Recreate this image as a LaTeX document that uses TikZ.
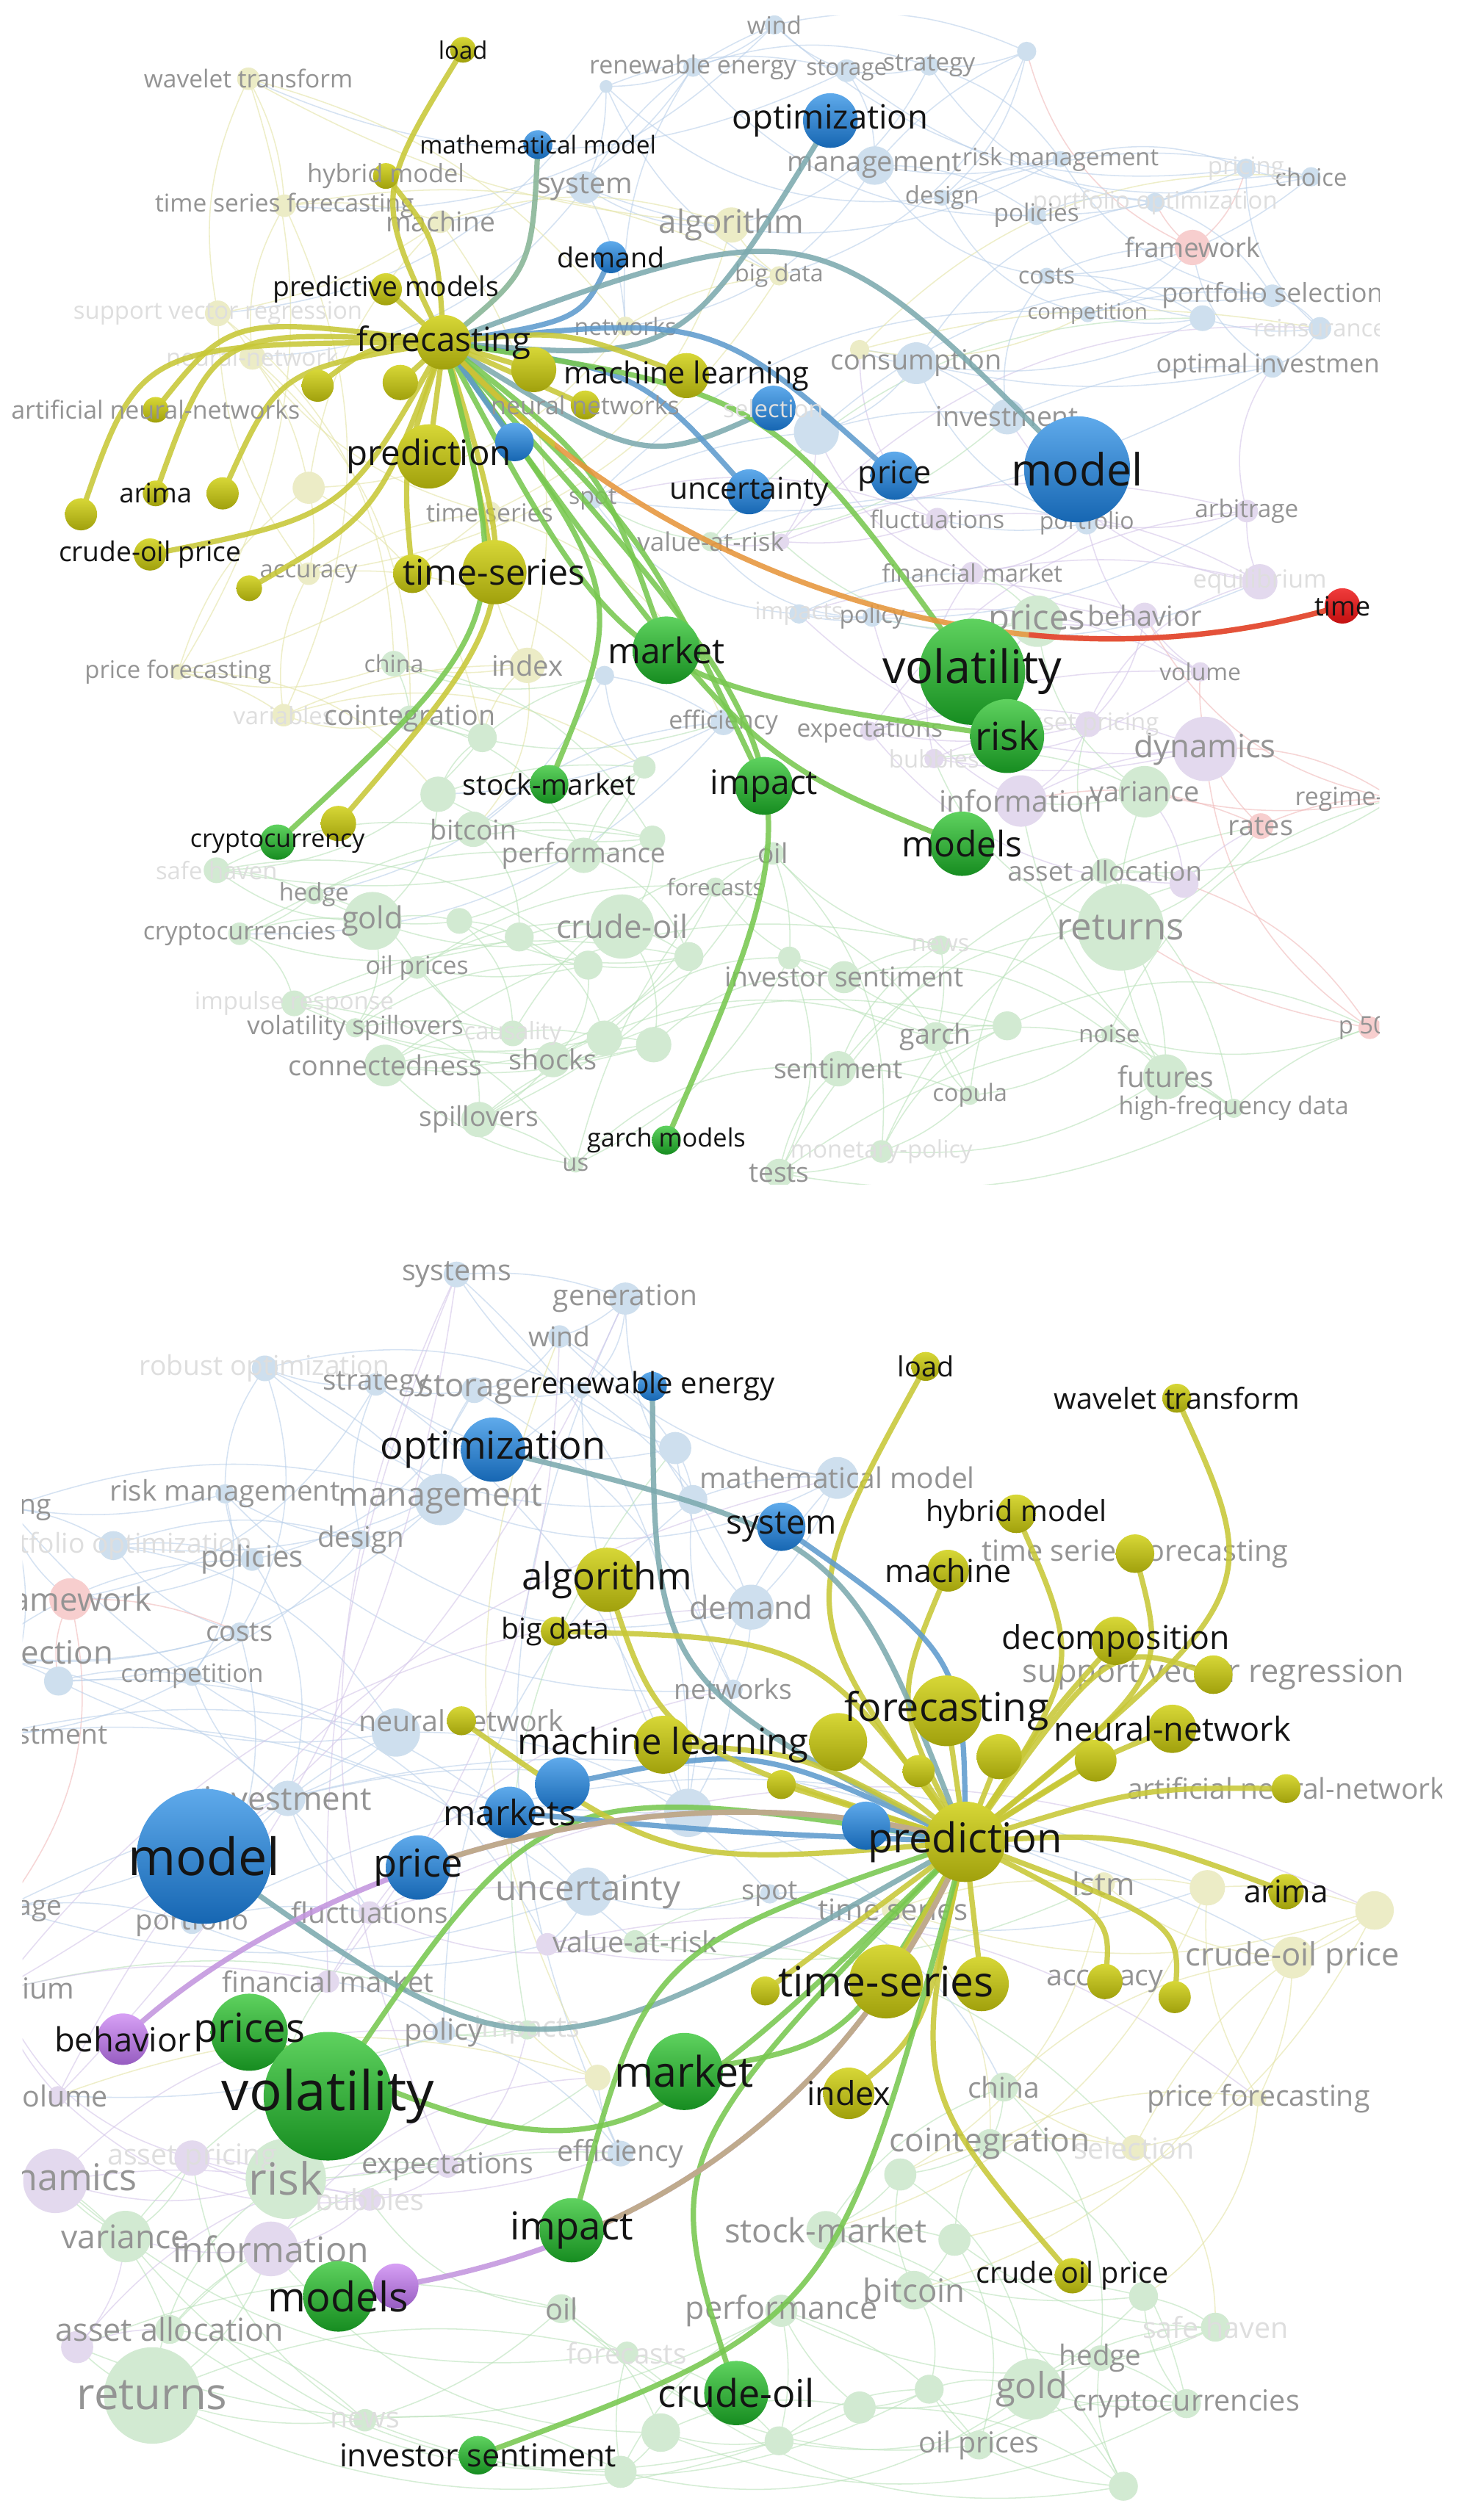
\documentclass[tikz,border=0pt]{standalone}
\usepackage{fontspec}
\setmainfont{Open Sans}
\pgfdeclarelayer{paper}
\pgfdeclarelayer{bgedge}
\pgfdeclarelayer{bgnode}
\pgfdeclarelayer{bglabel}
\pgfdeclarelayer{hiedge}
\pgfdeclarelayer{toplabel}
\pgfsetlayers{paper,bgedge,bgnode,bglabel,hiedge,main,toplabel}
\newcommand\fsz[1]{\fontsize{#1}{#1}\selectfont}
% node shading colours
\definecolor{YT}{RGB}{215,215,55}\definecolor{YB}{RGB}{160,160,12}
\definecolor{BT}{RGB}{95,170,235}\definecolor{BB}{RGB}{22,102,178}
\definecolor{GT}{RGB}{95,210,95}\definecolor{GB}{RGB}{22,140,32}
\definecolor{RT}{RGB}{240,60,60}\definecolor{RB}{RGB}{195,15,15}
\definecolor{PT}{RGB}{215,160,245}\definecolor{PB}{RGB}{150,92,192}
% faded fills
\definecolor{fyel}{RGB}{236,236,198}\definecolor{fblu}{RGB}{206,223,238}
\definecolor{fgrn}{RGB}{210,234,210}\definecolor{fpur}{RGB}{227,217,238}
\definecolor{fred}{RGB}{247,206,206}
% texture edges
\definecolor{tfyel}{RGB}{228,228,165}\definecolor{tfblu}{RGB}{185,208,234}
\definecolor{tfgrn}{RGB}{185,226,185}\definecolor{tfpur}{RGB}{212,198,233}
\definecolor{tfred}{RGB}{240,185,185}
% labels
\definecolor{fl}{RGB}{148,148,148}\definecolor{vfl}{RGB}{222,222,222}
\definecolor{bl}{RGB}{20,20,20}
% highlighted edges
\definecolor{eY}{RGB}{200,200,55}\definecolor{eG}{RGB}{120,200,80}
\definecolor{eB}{RGB}{95,155,205}\definecolor{eT}{RGB}{125,170,175}
\definecolor{eTG}{RGB}{135,180,150}\definecolor{eO}{RGB}{230,150,60}
\definecolor{eR}{RGB}{228,70,55}\definecolor{eP}{RGB}{195,150,222}
\definecolor{eN}{RGB}{190,172,130}

\def\toplist{154.5/49/14/fyel/wavelet transform/15.3/fl,
177/128/14/fyel/time series forecasting/15.3/fl,
274/138/14/fyel/machine/17/fl,
135.5/195/16/fyel/support vector regression/15/vfl,
157/222/16/fyel/neural-network/15/vfl,
192/303.5/20/fyel//10/fl,
192/357/14/fyel/accuracy/15/fl,
304.6/319/14/fyel/time series/15.5/fl,
110.8/418/10/fyel/price forecasting/15/fl,
176.4/445/14/fyel/variables/15/vfl,
328/414/22/fyel/index/17.5/fl,
245/413/16/fgrn/china/14.7/fl,
255/447/16/fgrn/cointegration/17.2/fl,
300/459/18/fgrn//10/fl,
376/420.3/12/fblu//10/fl,
450/449.4/16/fblu/efficiency/15.5/fl,
272.5/494.2/22/fgrn//10/fl,
400.8/477.4/14/fgrn//10/fl,
294.4/516/22/fgrn/bitcoin/17/fl,
405.8/521.7/16/fgrn//10/fl,
363/532.2/22/fgrn/performance/16.8/fl,
134.7/541.5/16/fgrn/safe haven/15/vfl,
195.3/556.7/12/fgrn/hedge/15/fl,
149/581/14/fgrn/cryptocurrencies/15.4/fl,
231.7/573/36/fgrn/gold/19/fl,
285.7/573/16/fgrn//10/fl,
323/583/18/fgrn//10/fl,
387/576.5/40/fgrn/crude-oil/20/fl,
428.5/595.2/18/fgrn//10/fl,
365.8/600.5/18/fgrn//10/fl,
259.4/602/14/fgrn/oil prices/15.4/fl,
183/624.3/16/fgrn/impulse response/15/vfl,
221/639.5/12/fgrn/volatility spillovers/15.8/fl,
319/643/16/fgrn/causality/15/vfl,
376/646/22/fgrn//10/fl,
406.6/650/22/fgrn//10/fl,
239.6/663/26/fgrn/connectedness/17.2/fl,
344/659.3/22/fgrn/shocks/17.3/fl,
298/696.6/22/fgrn/spillovers/17/fl,
358/724.6/10/fgrn/us/15/fl,
445/552/12/fgrn/forecasts/14.2/fl,
480.8/531/14/fgrn/oil/17/fl,
491/596/14/fgrn//10/fl,
525/608/20/fgrn/investor sentiment/17/fl,
585/588/12/fgrn/news/15/vfl,
582/645/18/fgrn/garch/17.2/fl,
626.5/638.3/18/fgrn//10/fl,
521.4/665/22/fgrn/sentiment/17/fl,
603.3/681.5/12/fgrn/copula/14.9/fl,
548.3/716.4/14/fgrn/monetary-policy/15/vfl,
484.6/730/18/fgrn/tests/17/fl,
690/643/10/fgrn/noise/15.2/fl,
725/670/28/fgrn/futures/17.8/fl,
767.4/689.6/12/fgrn/high-frequency data/15.3/fl,
852/639.5/14/fred/p 500/15/fl,
697/577/54/fgrn/returns/23.3/fl,
687.2/542/16/fgrn/asset allocation/16.8/fl,
736.5/549.7/18/fpur//10/fl,
784.2/514/16/fred/rates/17.3/fl,
867/497/14/fred/regime-switching/15.5/fl,
712/492.6/32/fgrn/variance/17.3/fl,
635/498.4/32/fpur/information/18.3/fl,
749.5/466/40/fpur/dynamics/20/fl,
581/472/12/fpur/bubbles/15/vfl,
677/450.6/16/fpur/asset pricing/15/vfl,
541/455/12/fpur/expectations/15.3/fl,
746.6/418/12/fpur/volume/14.6/fl,
712/383/16/fpur/behavior/17.3/fl,
645/386.5/32/fgrn/prices/21.6/fl,
542.5/384/12/fblu/policy/15/fl,
497/382/12/fblu/impacts/15/vfl,
604.7/356.6/14/fpur/financial market/15/fl,
783.6/362/22/fpur/equilibrium/15.5/vfl,
775.5/318/14/fpur/arbitrage/15.2/fl,
676/325.5/14/fblu/portfolio/14.6/fl,
583/323/14/fpur/fluctuations/15.2/fl,
486/337/10/fpur//10/fl,
442/337/12/fgrn/value-at-risk/16/fl,
368.7/310.7/12/fblu/spot/14.6/fl,
507.8/268.9/28/fblu//10/fl,
626.5/259.3/22/fblu/investment/17/fl,
791.5/228/14/fblu/optimal investment/16/fl,
570/226/26/fblu/consumption/17.3/fl,
534.7/217.5/12/fyel//10/fl,
821/204.3/14/fblu/reinsurance/15/vfl,
748/198/16/fblu//10/fl,
676.5/195.5/10/fblu/competition/13.3/fl,
791.5/184/14/fblu/portfolio selection/16.3/fl,
651/171.6/10/fblu/costs/14.8/fl,
741.7/154/22/fred/framework/16.6/fl,
718.5/126/12/fblu/portfolio optimization/15/vfl,
815.5/110/12/fblu/choice/15/fl,
775/104.7/12/fblu/pricing/15/vfl,
644.7/134/12/fblu/policies/15.2/fl,
586/123/10/fblu/design/15/fl,
659.7/99/10/fblu/risk management/15/fl,
544/103/24/fblu/management/17.4/fl,
638.6/32/12/fblu//10/fl,
578/41/12/fblu/strategy/15.3/fl,
526.6/44/14/fblu/storage/14.4/fl,
481.7/15.5/12/fblu/wind/15/fl,
431/41.8/12/fblu/renewable energy/15.5/fl,
377/53.8/8/fblu//10/fl,
363.8/116.6/20/fblu/system/18/fl,
389/203/12/fyel/networks/14.7/fl,
484.6/171.6/12/fyel/big data/14.7/fl,
455/140/22/fyel/algorithm/20/fl}

\def\botlist{284/793/16/fblu/systems/18/fl,
389/808/20/fblu/generation/17.8/fl,
348/831.6/14/fblu/wind/17/fl,
420/901/20/fblu//10/fl,
431/933/18/fblu//10/fl,
520.8/919.6/26/fblu/mathematical model/17.8/fl,
467.2/1000/28/fblu/demand/19.8/fl,
456/1051/12/fblu/networks/17/fl,
428/1128/30/fblu//10/fl,
361.5/865/10/fblu//10/fl,
295/865/16/fblu/storage/20/fl,
233.8/861.4/14/fblu/strategy/17.6/fl,
164.7/851.4/16/fblu/robust optimization/17/vfl,
274/933/32/fblu/management/20.4/fl,
224.5/958/12/fblu/design/17.6/fl,
140/929.5/12/fblu/risk management/17.6/fl,
5/938/12/fblu/pricing/17/fl,
70.5/961.7/18/fblu/portfolio optimization/17/vfl,
156.8/970.4/14/fblu/policies/18.3/fl,
43.7/995/26/fred/framework/20/fl,
149/1015.5/12/fblu/costs/17.4/fl,
-14/1030/16/fblu/portfolio selection/20/fl,
36.4/1046/18/fblu//10/fl,
119.5/1043/12/fblu/competition/15.8/fl,
-10/1080.6/16/fblu/optimal investment/17/fl,
246.3/1078/30/fblu//10/fl,
179/1119/22/fblu/investment/20/fl,
2.7/1187/12/fblu/arbitrage/17/fl,
119.5/1196.4/14/fblu/portfolio/17.4/fl,
230/1190/14/fpur/fluctuations/17.7/fl,
365.8/1177/30/fblu/uncertainty/21.7/fl,
340.5/1209.8/14/fpur//10/fl,
395/1208/14/fgrn/value-at-risk/18/fl,
478.8/1178.4/12/fblu/spot/17.2/fl,
555.5/1188/14/fyel/time series/18.3/fl,
686.5/1172/14/fyel/lstm/19.4/fl,
751/1174.6/22/fyel//10/fl,
855/1188.7/24/fyel//10/fl,
804/1218/26/fyel/crude-oil price/19.9/fl,
782.8/1305.6/10/fyel/price forecasting/17.9/fl,
705.5/1336.4/16/fyel/selection/18/vfl,
624.4/1298.6/18/fgrn/china/17.8/fl,
615.7/1333.8/18/fgrn/cointegration/20.2/fl,
560/1353/20/fgrn//10/fl,
513.6/1387.7/24/fgrn/stock-market/20.7/fl,
593.7/1393.6/20/fgrn//10/fl,
568.6/1425/24/fgrn/bitcoin/20/fl,
711.3/1428.8/18/fgrn//10/fl,
756/1448/18/fgrn/safe haven/18/vfl,
684.4/1467.3/16/fgrn/hedge/17.6/fl,
738/1495.6/18/fgrn/cryptocurrencies/18.1/fl,
641.8/1486.6/38/fgrn/gold/22.3/fl,
698.8/1547/18/fgrn//10/fl,
609/1521.3/18/fgrn/oil prices/18/fl,
578/1486.6/18/fgrn//10/fl,
534.7/1498/20/fgrn//10/fl,
486/1437.8/20/fgrn/performance/19.7/fl,
484.6/1518.7/18/fgrn//10/fl,
411/1513.6/24/fgrn//10/fl,
386/1538/20/fgrn//10/fl,
390/1464/14/fgrn/forecasts/17.6/vfl,
349.2/1436.5/18/fgrn/oil/18.2/fl,
227/1505.9/14/fgrn/news/18/vfl,
94.7/1490.5/60/fgrn/returns/27.4/fl,
48/1460.4/20/fpur//10/fl,
105.5/1449.4/18/fgrn/asset allocation/19.7/fl,
168.5/1399.3/34/fpur/information/22/fl,
78/1391.6/32/fgrn/variance/20.3/fl,
34.4/1357/40/fpur/dynamics/23/fl,
230/1368.5/14/fpur/bubbles/18/vfl,
119.5/1342.8/22/fpur/asset pricing/18/vfl,
177.8/1355.6/50/fgrn/risk/27.6/fl,
278.4/1348/14/fpur/expectations/18/fl,
386/1340/16/fblu/efficiency/17.9/fl,
371.7/1292.7/16/fyel//10/fl,
328/1263/12/fgrn/impacts/18/vfl,
276/1264.5/14/fblu/policy/18.1/fl,
36/1304/12/fpur/volume/18/fl,
-2/1239/20/fpur/equilibrium/18/fl,
204/1233/14/fpur/financial market/17.6/fl}

\begin{document}
\begin{tikzpicture}[x=1pt,y=-1pt,
  fnode/.style={circle,inner sep=0pt,draw=none},
  hnode/.style={circle,inner sep=0pt,draw=none},
  lab/.style={inner sep=0pt},
  texedge/.style={line width=0.7pt,draw opacity=0.6},
  hedge/.style={line width=3.3pt,line cap=round,draw opacity=0.88}]
\useasboundingbox (0,0) rectangle (911,1568);
\begin{pgfonlayer}{paper}
\fill[white] (0,0) rectangle (911,1568);
\end{pgfonlayer}

% ---------------- faded nodes, top panel
\begin{pgfonlayer}{bgnode}
\begin{scope}
\clip (13,10) rectangle (858,737);
\foreach \x/\y/\dd/\cl/\lbl/\sz/\lc [count=\k] in \toplist {
  \node[fnode, fill=\cl, minimum size=\dd pt] (tf\k) at (\x,\y) {};
  \expandafter\xdef\csname tfc\k\endcsname{t\cl}
  \xdef\tfN{\k}
}
\end{scope}
\begin{scope}
\clip (14,781) rectangle (897,1558);
\foreach \x/\y/\dd/\cl/\lbl/\sz/\lc [count=\k] in \botlist {
  \node[fnode, fill=\cl, minimum size=\dd pt] (bf\k) at (\x,\y) {};
  \expandafter\xdef\csname bfc\k\endcsname{t\cl}
  \xdef\bfN{\k}
}
\end{scope}
\end{pgfonlayer}

% faded labels
\begin{pgfonlayer}{bglabel}
\begin{scope}
\clip (13,10) rectangle (858,737);
\foreach \x/\y/\dd/\cl/\lbl/\sz/\lc [count=\k] in \toplist {
  \node[lab, text=\lc, font=\fsz{\sz}] at (tf\k) {\lbl};
}
\end{scope}
\begin{scope}
\clip (14,781) rectangle (897,1558);
\foreach \x/\y/\dd/\cl/\lbl/\sz/\lc [count=\k] in \botlist {
  \node[lab, text=\lc, font=\fsz{\sz}] at (bf\k) {\lbl};
}
\end{scope}
\end{pgfonlayer}

% texture edges
\begin{pgfonlayer}{bgedge}
\begin{scope}
\clip (13,10) rectangle (858,737);
\foreach \i in {1,...,\tfN} {
  \foreach \o/\bb in {1/12,3/-18,8/25} {
    \pgfmathtruncatemacro\j{mod(\i-1+\o,\tfN)+1}
    \edef\ec{\csname tfc\i\endcsname}
    \draw[texedge, draw=\ec] (tf\i.center) to[bend left=\bb] (tf\j.center);
  }
}
\end{scope}
\begin{scope}
\clip (14,781) rectangle (897,1558);
\foreach \i in {1,...,\bfN} {
  \foreach \o/\bb in {1/12,3/-18,8/25} {
    \pgfmathtruncatemacro\j{mod(\i-1+\o,\bfN)+1}
    \edef\ec{\csname bfc\i\endcsname}
    \draw[texedge, draw=\ec] (bf\i.center) to[bend left=\bb] (bf\j.center);
  }
}
\end{scope}
\end{pgfonlayer}

% ---------------- highlighted nodes
\foreach \nm/\x/\y/\dd/\cl in {t_load/288/31/16/Y, t_hyb/240/109.5/16/Y, t_math/334.6/90/18/B,
  t_dem/380/160/20/B, t_pm/240/180/20/Y, t_ml1/332/230/28/Y, t_ml2/427/233.7/28/Y,
  t_nn/364/252/18/Y, t_u1/197.6/240/20/Y, t_u2/249/238/22/Y, t_ann/96.8/255/16/Y,
  t_bl/320/275/24/B, t_ar/96.8/307/16/Y, t_y1/138.5/307/20/Y, t_y2/50.4/320/20/Y,
  t_cop/93.3/345/20/Y, t_acc/155/366/16/Y, t_ts1/256.5/357/24/Y, t_ts2/307.5/356/40/Y,
  t_pred/266.7/284/40/Y, t_fc/276/213/34/Y, t_opt/516.5/75/34/B, t_sel/481/254/28/B,
  t_unc/466/306/28/B, t_price/556.4/296/30/B, t_model/670/292/66/B, t_time/835/377/22/R,
  t_vol/604.7/418/66/G, t_risk/626.5/458/46/G, t_mkt/414.5/404.6/42/G, t_imp/475.3/489/36/G,
  t_models/598.4/525/40/G, t_sm/341.6/488/24/G, t_cry/172.6/524/22/G, t_cryy/210.5/512.4/22/Y,
  t_garch/414.5/709.4/18/G,
  b_ren/405.8/862.6/18/B, b_opt/306.7/902/40/B, b_alg/377.5/983/40/Y, b_bd/345.4/1015/18/Y,
  b_nn/287/1070.7/18/Y, b_ml1/412.5/1085.6/36/Y, b_bl/349.8/1110.4/34/B, b_mkts/317/1127.7/32/B,
  b_price/260/1162/40/B, b_model/127/1155/84/B, b_beh/76.4/1268.8/32/P, b_prices/155/1264.5/48/G,
  b_vol/204/1304.3/80/G, b_mkt/425.6/1288.9/48/G, b_imp/355.6/1387.7/40/G, b_models/210.5/1428.8/44/G,
  b_modp/246.3/1422.4/28/P, b_crude/458/1489/40/G, b_inv/297.3/1527.7/24/G, b_load/575.8/850.2/18/Y,
  b_wav/732/870/18/Y, b_sys/486/950/30/B, b_hyb/632.2/941.9/24/Y, b_tsf/706/966.7/24/Y,
  b_mach/589.7/977.3/26/Y, b_dec/694/1021/30/Y, b_svr/754.7/1042/24/Y, b_neu/729.2/1075.7/30/Y,
  b_ml2/521.4/1083.9/36/Y, b_y1/571.4/1102/20/Y, b_y2/621.5/1093/28/Y, b_y3/681.5/1095.5/26/Y,
  b_y4/486/1110.4/18/Y, b_ann/800/1112.9/18/Y, b_arima/800/1177/22/Y, b_acc1/687.3/1232.9/22/Y,
  b_acc2/730.7/1242.6/20/Y, b_ts3/476/1238.8/18/Y, b_ts1/551.2/1232.9/46/Y, b_ts2/610.5/1234.4/34/Y,
  b_index/528/1302.5/32/Y, b_cop/667/1416/22/Y, b_bl2/538.7/1136/30/B, b_fc/588.8/1064.5/44/Y,
  b_pred/600.4/1146/50/Y}
  \node[hnode, minimum size=\dd pt, top color=\cl T, bottom color=\cl B] (\nm) at (\x,\y) {};

% ---------------- highlighted edges
\begin{pgfonlayer}{hiedge}
\begin{scope}
\clip (13,10) rectangle (858,737);
\foreach \nm/\cx/\cy/\cl in {t_load/232/122/eY, t_hyb/272/149/eY, t_math/331/168.5/eTG,
  t_dem/362/199.5/eB, t_opt/424/226/eT, t_model/507/127.5/eT, t_price/444/195/eB,
  t_sel/401.5/290.5/eT, t_unc/399/230.5/eB, t_ml2/352/205/eY, t_ts1/250/290/eY,
  t_ts2/295/290/eY, t_u1/230/215/eY, t_ann/143.6/196/eY, t_ar/133.6/204/eY, t_y2/87/213.5/eY,
  t_y1/173/230/eY, t_cop/215/321/eY, t_acc/234.5/320.5/eY, t_cryy/327/377/eY, t_cry/320/387.5/eG,
  t_sm/391/369.5/eG, t_mkt/375/291/eG, t_garch/515/479/eG, t_imp/400/330/eG,
  t_models/463/471/eG, t_vol/480/244.5/eG, t_risk/389/424.5/eG}
  \draw[hedge, draw=\cl] (t_fc.center) .. controls (\cx,\cy) .. (\nm.center);
\foreach \nm/\cl in {t_bl/eB, t_ml1/eY, t_nn/eY, t_pred/eY, t_u2/eY, t_pm/eY}
  \draw[hedge, draw=\cl] (t_fc.center) -- (\nm.center);
\draw[hedge, draw=eO] (t_fc.center) .. controls (400,350) and (620,440) .. (t_time.center);
\begin{scope}
\clip (640,300) rectangle (858,460);
\draw[hedge, draw=eR] (t_fc.center) .. controls (400,350) and (620,440) .. (t_time.center);
\end{scope}
\begin{scope}
\clip (13,10) rectangle (345,460);
\draw[hedge, draw=eY] (t_fc.center) .. controls (400,350) and (620,440) .. (t_time.center);
\end{scope}
\end{scope}

\begin{scope}
\clip (14,781) rectangle (897,1558);
\foreach \nm/\cx/\cy/\cl in {b_model/330/1300/eT, b_beh/0/0/none, b_load/492/1002/eY,
  b_wav/788/992/eY, b_hyb/674/1036/eY, b_tsf/727/1044/eY, b_mach/555/1059/eY,
  b_dec/650/1070/eY, b_svr/690/1020/eY, b_neu/680/1095/eY, b_ann/710/1112/eY,
  b_arima/700/1140/eY, b_acc1/692/1192/eY, b_acc2/735/1196/eY, b_index/575/1265/eY,
  b_cop/567/1300/eY, b_crude/410/1342/eG, b_inv/520/1445/eG, b_imp/402/1213/eG,
  b_mkt/527.5/1272.5/eG, b_vol/338/1105/eG, b_prices/380/1360/eG, b_mkts/450/1140/eB,
  b_bl/470/1085/eB, b_sys/600/1030/eB, b_opt/526.5/956/eT, b_ren/407/1046/eT,
  b_alg/411/1085.5/eY, b_bd/507/1019.5/eY, b_nn/416.5/1162/eY, b_ml1/500/1090/eY}
  {\ifx\cl\nonecol\else
   \draw[hedge, draw=\cl] (b_pred.center) .. controls (\cx,\cy) .. (\nm.center);\fi}
\foreach \nm/\cl in {b_fc/eY, b_ml2/eY, b_y1/eY, b_y2/eY, b_y3/eY, b_y4/eY, b_bl2/eB,
  b_ts1/eY, b_ts2/eY, b_ts3/eY}
  \draw[hedge, draw=\cl] (b_pred.center) -- (\nm.center);
% behavior -> prediction (purple to tan)
\draw[hedge, draw=eP] (b_beh.center) .. controls (180,1170) and (400,1090) .. (b_pred.center);
\begin{scope}
\clip (275,1000) rectangle (897,1300);
\draw[hedge, draw=eN] (b_beh.center) .. controls (180,1170) and (400,1090) .. (b_pred.center);
\end{scope}
% models (purple) -> prediction
\draw[hedge, draw=eP] (b_modp.center) .. controls (380,1400) and (520,1330) .. (b_pred.center);
\begin{scope}
\clip (340,1100) rectangle (897,1400);
\draw[hedge, draw=eN] (b_modp.center) .. controls (380,1400) and (520,1330) .. (b_pred.center);
\end{scope}
\end{scope}
\end{pgfonlayer}

% ---------------- labels of highlighted nodes
\begin{pgfonlayer}{toplabel}
\foreach \nm/\lbl/\sz/\lc in {t_load/load/15/bl, t_math/mathematical model/15.3/bl,
  t_dem/demand/17.2/bl, t_pm/predictive models/17/bl, t_fc/forecasting/20.9/bl,
  t_ml2/machine learning/18.9/bl, t_pred/prediction/21.7/bl, t_ar/arima/16.7/bl,
  t_cop/crude-oil price/17/bl, t_ts2/time-series/22/bl, t_unc/uncertainty/18.7/bl,
  t_price/price/19.7/bl, t_model/model/27.6/bl, t_opt/optimization/20.8/bl,
  t_time/time/16.6/bl, t_vol/volatility/28.7/bl, t_risk/risk/24/bl, t_mkt/market/22/bl,
  t_imp/impact/21/bl, t_models/models/21.9/bl, t_sm/stock-market/17.7/bl,
  t_cry/cryptocurrency/15.5/bl, t_garch/garch models/15.7/bl, t_hyb/hybrid model/15.7/fl,
  t_nn/neural networks/15.5/fl, t_ann/artificial neural-networks/15.5/fl,
  t_sel/selection/15/vfl,
  b_ren/renewable energy/18.3/bl, b_opt/optimization/24/bl, b_alg/algorithm/23.4/bl,
  b_bd/big data/17.9/bl, b_ml1/machine learning/22.4/bl, b_mkts/markets/21.8/bl,
  b_model/model/32/bl, b_price/price/24/bl, b_beh/behavior/20.7/bl, b_prices/prices/24.9/bl,
  b_vol/volatility/34/bl, b_mkt/market/26.2/bl, b_imp/impact/24/bl, b_models/models/25.5/bl,
  b_crude/crude-oil/23.8/bl, b_inv/investor sentiment/19.7/bl, b_load/load/17.3/bl,
  b_wav/wavelet transform/18/bl, b_sys/system/20.8/bl, b_hyb/hybrid model/18.1/bl,
  b_mach/machine/19.7/bl, b_dec/decomposition/20.4/bl, b_fc/forecasting/24.6/bl,
  b_neu/neural-network/20.6/bl, b_pred/prediction/25.6/bl, b_arima/arima/19.4/bl,
  b_ts1/time-series/26/bl, b_index/index/20.5/bl, b_cop/crude oil price/18.1/bl}
  \node[lab, text=\lc, font=\fsz{\sz}] at (\nm) {\lbl};
\end{pgfonlayer}
\begin{pgfonlayer}{bglabel}
\begin{scope}
\clip (14,781) rectangle (897,1558);
\foreach \nm/\lbl/\sz/\lc in {b_tsf/time series forecasting/18.1/fl,
  b_svr/support vector regression/19.8/fl, b_ann/artificial neural-network/17.8/fl,
  b_nn/neural network/18/fl, b_acc1/accuracy/18/fl}
  \node[lab, text=\lc, font=\fsz{\sz}] at (\nm) {\lbl};
\end{scope}
\end{pgfonlayer}
\end{tikzpicture}
\end{document}
